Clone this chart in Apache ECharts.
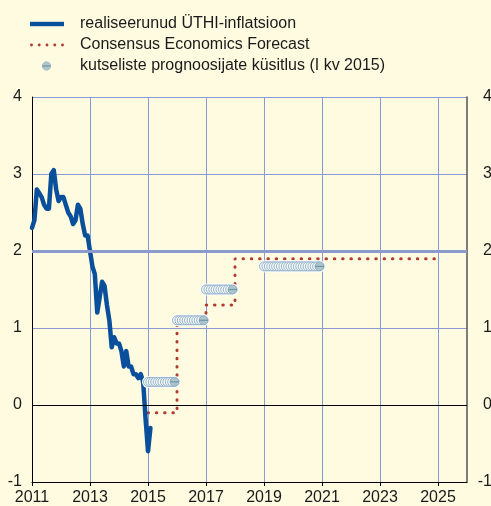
<!DOCTYPE html>
<html>
<head>
<meta charset="utf-8">
<script src="https://cdn.jsdelivr.net/npm/echarts@6/dist/echarts.min.js"></script>
<style>html,body{margin:0;padding:0;background:#fefbe0}</style>
</head>
<body>
<div id="chart" style="width:491px;height:506px;"></div>
<script>
// realiseerunud ÜTHI-inflatsioon, kuised väärtused alates jaan 2011
var hicpStartYear = 2011;
var hicpValues = [
  2.3, 2.4, 2.8, 2.75, 2.7, 2.6, 2.55, 2.55, 3.0, 3.05, 2.8, 2.65,
  2.7, 2.7, 2.6, 2.5, 2.45, 2.35, 2.4, 2.6, 2.55, 2.35, 2.2, 2.2,
  2.0, 1.8, 1.7, 1.2, 1.4, 1.6, 1.55, 1.3, 1.1, 0.75, 0.88, 0.8,
  0.8, 0.7, 0.5, 0.7, 0.5, 0.5, 0.4, 0.4, 0.35, 0.4, 0.3, -0.18,
  -0.6, -0.3
];

// Consensus Economics (astmeline joon, viimane punkt = lõpp)
var ceYears = [2015, 2016, 2017, 2018, 2025];
var ceValues = [-0.1, 1.1, 1.3, 1.9, 1.9];

// kutseliste prognoosijate küsitlus (I kv 2015)
var spfStart = [2015, 2016, 2017, 2019];
var spfMonths = [12, 12, 12, 24];
var spfValues = [0.3, 1.1, 1.5, 1.8];

var xTicks = [2011, 2013, 2015, 2017, 2019, 2021, 2023, 2025];

var names = ['realiseerunud ÜTHI-inflatsioon', 'Consensus Economics Forecast', 'kutseliste prognoosijate küsitlus (I kv 2015)'];

var hicpData = hicpValues.map(function (v, i) { return [hicpStartYear + i / 12, v]; });
var ceData = ceYears.map(function (y, i) { return [y, ceValues[i]]; });

var ringData = [], endData = [];
spfStart.forEach(function (y, k) {
  for (var m = 0; m < spfMonths[k]; m++) {
    ringData.push([y + m / 12, spfValues[k]]);
  }
  endData.push([y + (spfMonths[k] - 1) / 12, spfValues[k]]);
});

var blue = '#0a4f9b', red = '#b13a31', gridBlue = '#8a9ad4';

function svgUrl(svg) {
  return 'image://data:image/svg+xml;charset=utf-8,' + encodeURIComponent(svg);
}
var markerSvg = "<svg xmlns='http://www.w3.org/2000/svg' width='20' height='20'>" +
  "<circle cx='10' cy='10' r='8.6' fill='#9db8c3' stroke='#86a8b8' stroke-width='1.4'/>" +
  "<rect x='1.5' y='8.8' width='17' height='2.4' fill='#4c7f95'/></svg>";
var legendSvgs = [
  "<svg xmlns='http://www.w3.org/2000/svg' width='34' height='14'>" +
    "<rect x='0' y='4.8' width='34' height='4.4' fill='" + blue + "'/></svg>",
  "<svg xmlns='http://www.w3.org/2000/svg' width='34' height='14'>" +
    [1.5, 9.2, 17, 24.8, 32.5].map(function (cx) {
      return "<circle cx='" + cx + "' cy='7' r='1.45' fill='" + red + "'/>";
    }).join('') + "</svg>",
  "<svg xmlns='http://www.w3.org/2000/svg' width='34' height='14'>" +
    "<circle cx='16.5' cy='7' r='4.2' fill='#9db8c3' stroke='#86a8b8' stroke-width='0.8'/>" +
    "<rect x='12.3' y='6.4' width='8.4' height='1.2' fill='#4c7f95'/></svg>"
];

var font = 'Liberation Sans, Arial, sans-serif';

var chart = echarts.init(document.getElementById('chart'));
chart.setOption({
  backgroundColor: '#fefbe0',
  animation: false,
  textStyle: { fontFamily: font },
  grid: { left: 32, right: 24, top: 97, bottom: 24, outerBoundsMode: 'none' },
  legend: {
    orient: 'vertical',
    left: 25,
    top: 11,
    itemWidth: 34,
    itemHeight: 14,
    itemGap: 5,
    selectedMode: false,
    textStyle: { fontSize: 16, color: '#1a1a1a', fontFamily: font, padding: [0, 0, 0, 11] },
    data: names.map(function (n, i) { return { name: n, icon: svgUrl(legendSvgs[i]) }; })
  },
  xAxis: {
    type: 'value',
    min: 2011,
    max: 2026,
    interval: 2,
    axisLine: { show: true, onZero: false, lineStyle: { color: '#000', width: 1 } },
    axisTick: { show: true, length: 4, customValues: xTicks, lineStyle: { color: '#000' } },
    axisLabel: {
      fontSize: 16, color: '#1a1a1a', margin: 8, customValues: xTicks,
      formatter: function (v) { return String(v); }
    },
    splitLine: { show: true, lineStyle: { color: gridBlue, width: 1 } }
  },
  yAxis: [{
    type: 'value',
    min: -1,
    max: 4,
    interval: 1,
    position: 'left',
    axisLine: { show: true, onZero: false, lineStyle: { color: '#000', width: 1 } },
    axisTick: { show: false },
    axisLabel: { fontSize: 16, color: '#1a1a1a', margin: 10 },
    splitLine: { show: true, lineStyle: { color: gridBlue, width: 1 } }
  }, {
    type: 'value',
    min: -1,
    max: 4,
    interval: 1,
    position: 'right',
    axisLine: { show: true, onZero: false, lineStyle: { color: '#555', width: 1.5 } },
    axisTick: { show: false },
    axisLabel: { fontSize: 16, color: '#1a1a1a', margin: 25, align: 'right' },
    splitLine: { show: false }
  }],
  series: [{
    type: 'line',
    name: 'ref',
    data: [],
    silent: true,
    z: 1,
    markLine: {
      silent: true,
      symbol: 'none',
      label: { show: false },
      data: [
        { yAxis: 2, lineStyle: { color: '#8c9bcf', width: 3, type: 'solid' } },
        { yAxis: 0, lineStyle: { color: '#000', width: 1, type: 'solid' } }
      ]
    }
  }, {
    type: 'line',
    name: names[0],
    data: hicpData,
    symbol: 'none',
    z: 3,
    lineStyle: { color: blue, width: 4.5, join: 'round', cap: 'round' },
    itemStyle: { color: blue }
  }, {
    type: 'line',
    name: names[1],
    data: ceData,
    step: 'end',
    symbol: 'none',
    z: 2,
    lineStyle: { color: red, width: 3, type: [0.5, 7.8], cap: 'round' },
    itemStyle: { color: red }
  }, {
    type: 'scatter',
    name: 'halo',
    data: ringData,
    symbol: 'circle',
    symbolSize: 12,
    silent: true,
    z: 4,
    itemStyle: { color: '#ffffff', opacity: 1 }
  }, {
    type: 'scatter',
    name: 'rings',
    data: ringData,
    symbol: 'circle',
    symbolSize: 9,
    silent: true,
    z: 5,
    itemStyle: { color: '#f7f9f4', borderColor: '#8fb0cc', borderWidth: 1, opacity: 1 }
  }, {
    type: 'scatter',
    name: names[2],
    data: endData,
    symbol: svgUrl(markerSvg),
    symbolSize: 10,
    silent: true,
    z: 6
  }]
});
</script>
</body>
</html>
